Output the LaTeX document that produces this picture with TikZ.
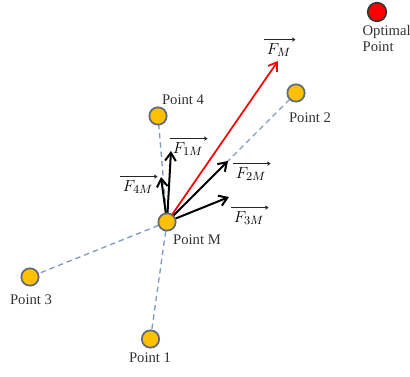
\documentclass[tikz,border=0pt]{standalone}
\usepackage{fontspec}
\setmainfont{Liberation Serif}
\usetikzlibrary{arrows.meta}
\definecolor{ptfill}{HTML}{FFC000}
\definecolor{ptdraw}{HTML}{5F6B78}
\definecolor{dashc}{HTML}{7F9CC0}
\definecolor{txt}{HTML}{333333}
\begin{document}
\begin{tikzpicture}[x=0.75pt,y=-0.75pt,
  pt/.style={circle,fill=ptfill,draw=ptdraw,line width=1.3pt,minimum size=13pt,inner sep=0pt},
  opt/.style={circle,fill=red,draw=black!80,line width=1.2pt,minimum size=14pt,inner sep=0pt},
  lbl/.style={font=\fontsize{11}{12}\selectfont,text=txt,inner sep=1pt},
  flbl/.style={font=\fontsize{13}{14}\selectfont,text=black,inner sep=1pt},
  vecbar/.style={black!85,line width=0.6pt,-{To[length=2.5pt,width=3pt]}},
  dash line/.style={dashc,dashed,line width=1pt,dash pattern=on 4pt off 3pt},
  force/.style={black,line width=1.5pt,-{Straight Barb[length=6pt,width=8pt,line width=1.5pt]}},
  result/.style={red,line width=1.3pt,-{Straight Barb[length=6pt,width=8pt,line width=1.3pt]}}]
\useasboundingbox (0,0) rectangle (410,377);
% coordinates
\coordinate (cM) at (167,222);
\coordinate (c1) at (150.5,339);
\coordinate (c2) at (296,93);
\coordinate (c3) at (30,277);
\coordinate (c4) at (158,116);
% dashed lines
\draw[dash line] (cM) -- (c1);
\draw[dash line] (cM) -- (c2);
\draw[dash line] (cM) -- (c3);
\draw[dash line] (cM) -- (c4);
% force arrows
\coordinate (tF) at (278,61);
\coordinate (t1) at (171,151);
\coordinate (t2) at (228,161);
\coordinate (t3) at (229,197);
\coordinate (t4) at (161,177);
\draw[result] (cM) -- (tF);
\draw[force] (cM) -- (t1);
\draw[force] (cM) -- (t2);
\draw[force] (cM) -- (t3);
\draw[force] (cM) -- (t4);
% points
\node[pt] (pM) at (cM) {};
\node[pt] (p1) at (c1) {};
\node[pt] (p2) at (c2) {};
\node[pt] (p3) at (c3) {};
\node[pt] (p4) at (c4) {};
\node[opt] (po) at (377,12) {};
% labels
\node[lbl] (lM) at (197,240) {Point M};
\node[lbl] (l1) at (150,358) {Point 1};
\node[lbl] (l2) at (310,118) {Point 2};
\node[lbl] (l3) at (31,300) {Point 3};
\node[lbl] (l4) at (183,100) {Point 4};
\node[lbl,align=left,anchor=north west,font=\fontsize{11}{12}\selectfont] (lo) at (361,24) {Optimal\\Point};
\node[flbl] (fM) at (279,50) {$F_M$};
\node[flbl] (f1) at (188,149) {$F_{1M}$};
\node[flbl] (f2) at (251,174) {$F_{2M}$};
\node[flbl] (f3) at (249,218) {$F_{3M}$};
\node[flbl] (f4) at (138,187) {$F_{4M}$};
\foreach \n in {fM,f1,f2,f3,f4}
  \draw[vecbar] ([xshift=-1pt,yshift=1.5pt]\n.north west) -- ([xshift=2pt,yshift=1.5pt]\n.north east);
\end{tikzpicture}
\end{document}
